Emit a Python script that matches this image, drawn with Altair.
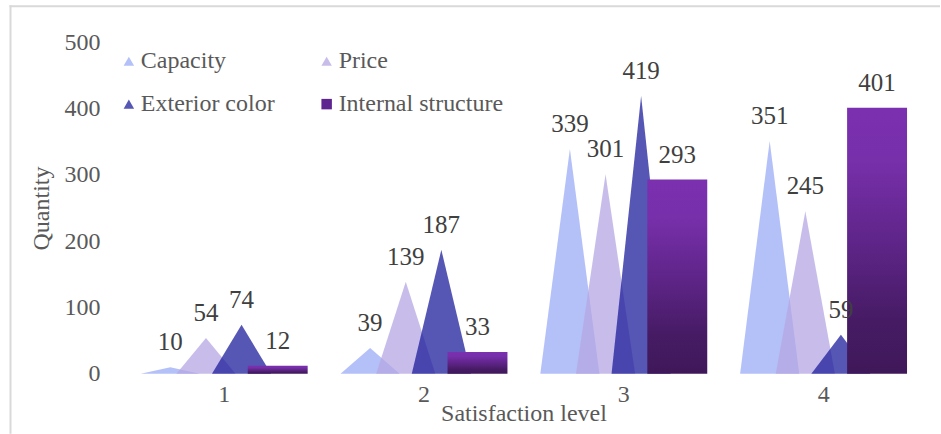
import altair as alt
import pandas as pd

# Satisfaction survey counts per level
levels = [1, 2, 3, 4]
capacity = [10, 39, 339, 351]
price = [54, 139, 301, 245]
exterior_color = [74, 187, 419, 59]
internal_structure = [12, 33, 293, 401]

series_names = ["Capacity", "Price", "Exterior color", "Internal structure"]
series_values = [capacity, price, exterior_color, internal_structure]

# fill colours for the translucent triangles, and the colours shown in the legend
tri_colors = ["#9BABF6", "#B6A7E3", "#1E1E9B"]
legend_colors = ["#B4C0F8", "#C8BDEA", "#5656B4", "#5E2590"]
legend_shapes = ["triangle-up", "triangle-up", "triangle-up", "square"]

# placement inside each level, in x-scale units (one unit per level)
OFFSETS = [-0.2675, -0.089, 0.089, 0.27]
TRI_HALF = 0.148
BAR_HALF = 0.15

FONT = "Liberation Serif"
TEXT_GREY = "#595959"

rows = []
for name, vals, off in zip(series_names, series_values, OFFSETS):
    for lv, v in zip(levels, vals):
        c = lv + off
        rows.append({"series": name, "level": lv, "value": v,
                     "xc": c, "x0": c - BAR_HALF, "x1": c + BAR_HALF})
points = pd.DataFrame(rows)

tri_rows = []
for name, vals, off in zip(series_names[:3], series_values[:3], OFFSETS[:3]):
    for lv, v in zip(levels, vals):
        c = lv + off
        for k, (xx, yy) in enumerate([(c - TRI_HALF, 0), (c, v), (c + TRI_HALF, 0)]):
            tri_rows.append({"series": name, "key": f"{name}-{lv}", "k": k, "x": xx, "y": yy})
tri = pd.DataFrame(tri_rows)

x_scale = alt.Scale(domain=[0.5, 4.5], nice=False, zero=False)
y_scale = alt.Scale(domain=[0, 500], nice=False)

x_axis = alt.Axis(values=levels, format="d", grid=False, domain=False, ticks=False,
                  labelFont=FONT, labelFontSize=24, labelColor=TEXT_GREY, labelPadding=9,
                  title="Satisfaction level", titleFont=FONT, titleFontSize=24,
                  titleFontWeight="normal", titleColor=TEXT_GREY, titlePadding=-5)
y_axis = alt.Axis(values=[0, 100, 200, 300, 400, 500], grid=False, domain=False, ticks=False,
                  labelFont=FONT, labelFontSize=24, labelColor=TEXT_GREY, labelPadding=24,
                  title="Quantity", titleFont=FONT, titleFontSize=24,
                  titleFontWeight="normal", titleColor=TEXT_GREY, titlePadding=10)

legend = alt.Legend(title=None, orient="none", legendX=-7, legendY=7, columns=2,
                    direction="horizontal", columnPadding=40, rowPadding=19,
                    symbolSize=110, symbolOpacity=1, symbolStrokeWidth=0,
                    labelFont=FONT, labelFontSize=24, labelLimit=400,
                    labelColor=TEXT_GREY, labelOffset=0, padding=0)

# outer frame lines
frame = pd.DataFrame({"part": ["frame"]})
top_line = alt.Chart(frame).mark_rule(color="#D9D9D9", strokeWidth=2).encode(
    x=alt.value(-114.5), x2=alt.value(817), y=alt.value(-36))
left_line = alt.Chart(frame).mark_rule(color="#D9D9D9", strokeWidth=2).encode(
    x=alt.value(-113.5), y=alt.value(-37), y2=alt.value(392))

layers = [top_line, left_line]

for name, col in zip(series_names[:3], tri_colors):
    layers.append(
        alt.Chart(tri[tri.series == name]).mark_area(color=col, opacity=0.75, interpolate="linear").encode(
            x=alt.X("x:Q", scale=x_scale, axis=x_axis),
            y=alt.Y("y:Q", scale=y_scale, axis=y_axis, stack=None),
            detail="key:N",
        )
    )

bar_fill = alt.Gradient(
    gradient="linear", x1=0, y1=0, x2=0, y2=1,
    stops=[
        alt.GradientStop(color="#7B30B0", offset=0),
        alt.GradientStop(color="#772FAA", offset=0.2),
        alt.GradientStop(color="#5F2589", offset=0.5),
        alt.GradientStop(color="#461B64", offset=0.8),
        alt.GradientStop(color="#3F1859", offset=1),
    ],
)
bars = alt.Chart(points[points.series == "Internal structure"]).mark_bar(color=bar_fill).encode(
    x=alt.X("x0:Q", scale=x_scale, axis=x_axis),
    x2="x1:Q",
    y=alt.Y("value:Q", scale=y_scale, axis=y_axis),
    y2=alt.datum(0),
)
layers.append(bars)

legend_marks = alt.Chart(points).mark_point(filled=True, opacity=0).encode(
    x=alt.X("xc:Q", scale=x_scale, axis=x_axis),
    y=alt.Y("value:Q", scale=y_scale, axis=y_axis),
    color=alt.Color("series:N", scale=alt.Scale(domain=series_names, range=legend_colors), legend=legend),
    shape=alt.Shape("series:N", scale=alt.Scale(domain=series_names, range=legend_shapes), legend=legend),
)
layers.append(legend_marks)

labels = alt.Chart(points).mark_text(dy=-17, baseline="alphabetic", font=FONT, fontSize=25,
                                     color="#404040").encode(
    x=alt.X("xc:Q", scale=x_scale, axis=x_axis),
    y=alt.Y("value:Q", scale=y_scale, axis=y_axis),
    text="value:Q",
)
layers.append(labels)

chart = alt.layer(*layers).properties(
    width=800, height=332,
    padding={"left": 8, "top": 4, "right": 0, "bottom": 0},
    background="white",
).configure_view(strokeWidth=0)

chart.save("out.html", embed_options={"renderer": "svg", "actions": False})
